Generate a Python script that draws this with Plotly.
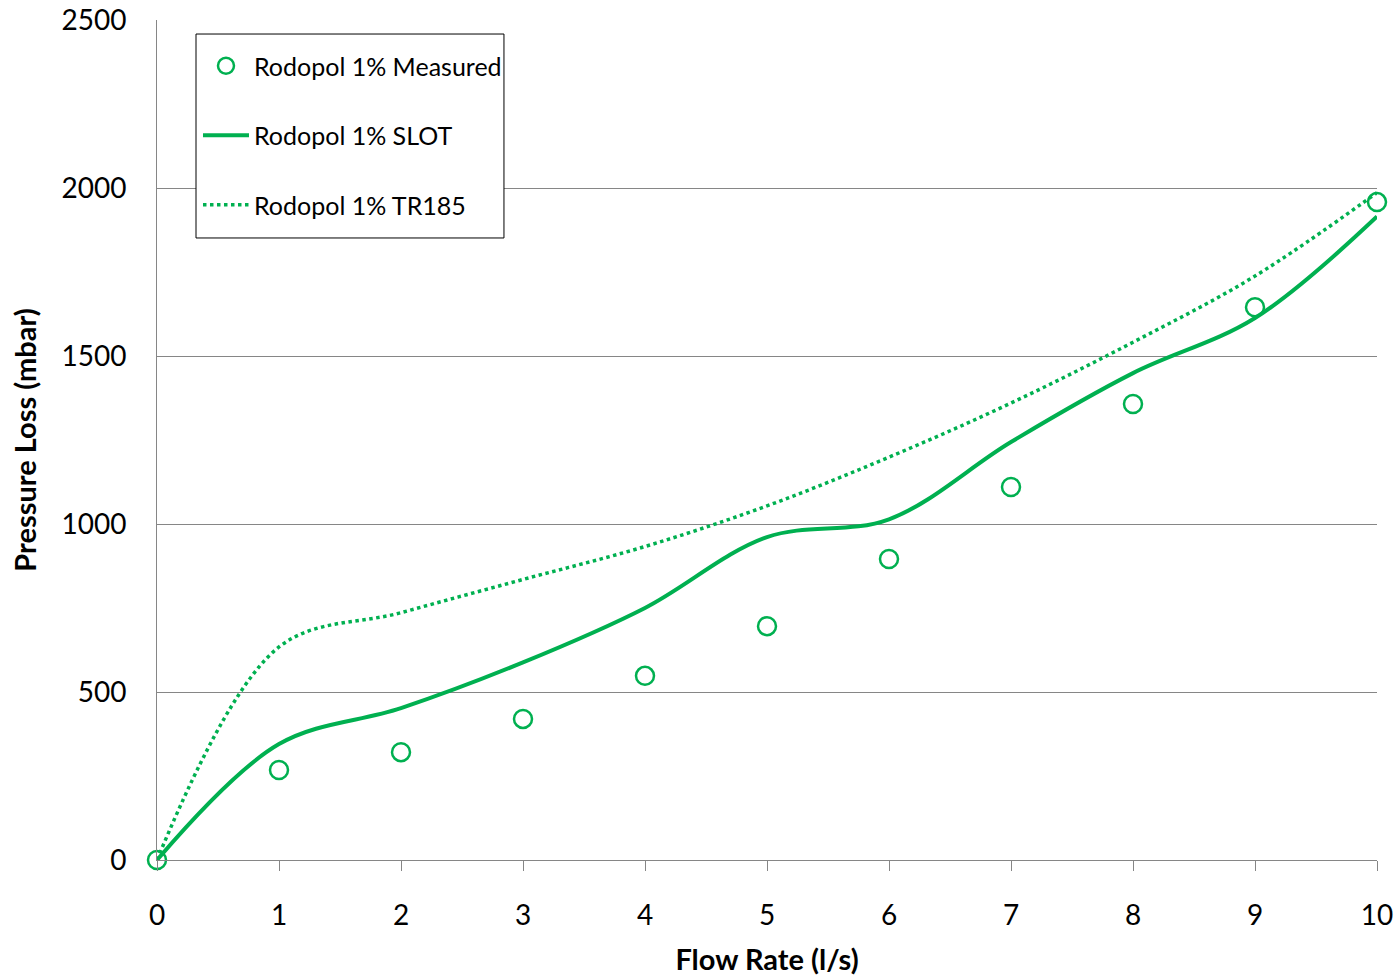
import plotly.graph_objects as go

flow = [0, 1, 2, 3, 4, 5, 6, 7, 8, 9, 10]
measured = [0, 268, 321, 420, 548, 696, 896, 1110, 1357, 1645, 1958]
slot = [0, 345, 452, 588, 750, 961, 1014, 1244, 1449, 1613, 1915]
tr185 = [0, 634, 736, 835, 933, 1054, 1199, 1360, 1541, 1738, 1986]

GREEN = "#00B050"
FONT = "Lato"

fig = go.Figure()
fig.add_trace(go.Scatter(
    x=flow, y=measured, mode="markers", name="Rodopol 1% Measured",
    marker=dict(symbol="circle-open", size=18, color=GREEN, line=dict(width=2.5, color=GREEN)),
    cliponaxis=False, legendgroup="a"))
fig.add_trace(go.Scatter(
    x=flow, y=slot, mode="lines", name="Rodopol 1% SLOT",
    line=dict(color=GREEN, width=4, shape="spline", smoothing=1),
    cliponaxis=False, legendgroup="b"))
fig.add_trace(go.Scatter(
    x=flow, y=tr185, mode="lines", name="Rodopol 1% TR185",
    line=dict(color=GREEN, width=3.5, shape="spline", smoothing=1, dash="dot"),
    cliponaxis=False, legendgroup="c"))

fig.update_layout(
    width=1400, height=976,
    margin=dict(l=157, r=23, t=20, b=116, autoexpand=False),
    paper_bgcolor="white", plot_bgcolor="white",
    font=dict(family=FONT, size=28, color="black"),
    showlegend=True,
    legend=dict(
        x=0.0336, y=0.9726, xanchor="left", yanchor="top",
        bgcolor="rgba(0,0,0,0)", borderwidth=0,
        font=dict(family=FONT, size=25, color="black"),
        tracegroupgap=34, itemwidth=46,
    ),
    shapes=[dict(
        type="rect", xref="paper", yref="paper",
        x0=0.03197, x1=0.2844, y0=0.7405, y1=0.9833,
        line=dict(color="black", width=1), fillcolor="white", layer="above",
    )],
    xaxis=dict(
        range=[0, 10], dtick=1, tick0=0, automargin=False,
        showgrid=False, zeroline=False,
        showline=True, linecolor="#868686", linewidth=1,
        ticks="outside", ticklen=10, tickcolor="#868686",
        ticklabelstandoff=20,
        tickfont=dict(size=28),
        title=dict(text="<b>Flow Rate (l/s)</b>", font=dict(size=29), standoff=22),
    ),
    yaxis=dict(
        range=[0, 2500], dtick=500, tick0=0, automargin=False,
        showgrid=True, gridcolor="#868686", gridwidth=1,
        zeroline=False,
        showline=True, linecolor="#868686", linewidth=1,
        ticks="", ticklabelstandoff=24,
        tickfont=dict(size=28),
        title=dict(text="<b>Pressure Loss (mbar)</b>", font=dict(size=29), standoff=16),
    ),
)

fig.write_html("out.html")
